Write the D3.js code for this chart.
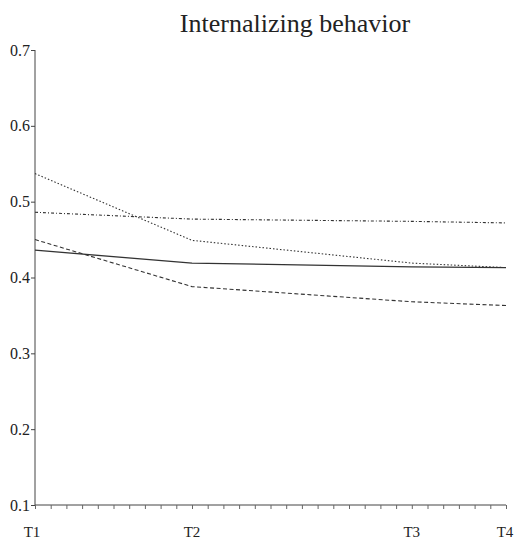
<!DOCTYPE html>
<html>
<head>
<meta charset="utf-8">
<script src="https://cdn.jsdelivr.net/npm/d3@7"></script>
<style>
  body { margin: 0; background: #fff; }
  svg text { font-family: "Liberation Serif", "DejaVu Serif", serif; fill: #222; }
</style>
</head>
<body>
<div id="chart"></div>
<script>
// --- DATA ---
// time points measured in months on the x axis
const timeLabels = ["T1", "T2", "T3", "T4"];
const timeMonths = [0, 10, 24, 30];
const yTicks = [0.1, 0.2, 0.3, 0.4, 0.5, 0.6, 0.7];

const solidSeries   = [0.436, 0.419, 0.414, 0.413];
const dottedSeries  = [0.537, 0.449, 0.419, 0.413];
const dashDotSeries = [0.486, 0.477, 0.474, 0.472];
const dashedSeries  = [0.450, 0.388, 0.368, 0.363];

const seriesList = [
  { values: solidSeries,   dash: null,        width: 1.3 },
  { values: dottedSeries,  dash: "1.5,2",     width: 1.1 },
  { values: dashDotSeries, dash: "3,2,1,2",   width: 1.1 },
  { values: dashedSeries,  dash: "4,2.5",     width: 1.1 }
];

// --- LAYOUT ---
const width = 517, height = 542;
const margin = { top: 50, right: 10, bottom: 36, left: 35 };
const serif = "'Liberation Serif', 'Times New Roman', serif";

const svg = d3.select("#chart").append("svg")
  .attr("width", width)
  .attr("height", height);

const x = d3.scaleLinear().domain([0, 30]).range([margin.left, 506]);
const y = d3.scaleLinear().domain([0.1, 0.7]).range([505, margin.top]);

// Title
svg.append("text")
  .attr("x", 295).attr("y", 32)
  .attr("text-anchor", "middle")
  .style("font-family", serif)
  .style("font-size", "26px")
  .text("Internalizing behavior");

// Y axis
const yAxis = svg.append("g")
  .attr("transform", `translate(${margin.left},0)`)
  .attr("font-family", serif)
  .call(d3.axisLeft(y).tickValues(yTicks).tickFormat(d3.format(".1f")).tickSize(4).tickPadding(1));
yAxis.select(".domain").attr("stroke", "#444").attr("d", `M0,${y(0.7)}V${y(0.1)}`);
yAxis.selectAll(".tick line").attr("stroke", "#444");
yAxis.selectAll(".tick text")
  .style("font-family", serif)
  .style("font-size", "16px")
  .attr("fill", "#222");

// X axis with monthly minor ticks
const xAxis = svg.append("g")
  .attr("transform", `translate(0,${y(0.1)})`)
  .call(d3.axisBottom(x).tickValues(d3.range(0, 31)).tickSize(4).tickFormat(""));
xAxis.select(".domain").attr("stroke", "#444").attr("d", `M${x(0)},0H${x(30)}`);
xAxis.selectAll(".tick line").attr("stroke", "#666");

const labelShift = [-3, 0, 0, -1];
svg.append("g").selectAll("text")
  .data(timeLabels)
  .join("text")
  .attr("x", (d, i) => x(timeMonths[i]) + labelShift[i])
  .attr("y", 537)
  .attr("text-anchor", "middle")
  .style("font-family", serif)
  .style("font-size", "15px")
  .text(d => d);

// Lines
const line = d3.line()
  .x((d, i) => x(timeMonths[i]))
  .y(d => y(d));

svg.append("g").selectAll("path")
  .data(seriesList)
  .join("path")
  .attr("d", d => line(d.values))
  .attr("fill", "none")
  .attr("stroke", "#333")
  .attr("stroke-width", d => d.width)
  .attr("stroke-dasharray", d => d.dash);
</script>
</body>
</html>
